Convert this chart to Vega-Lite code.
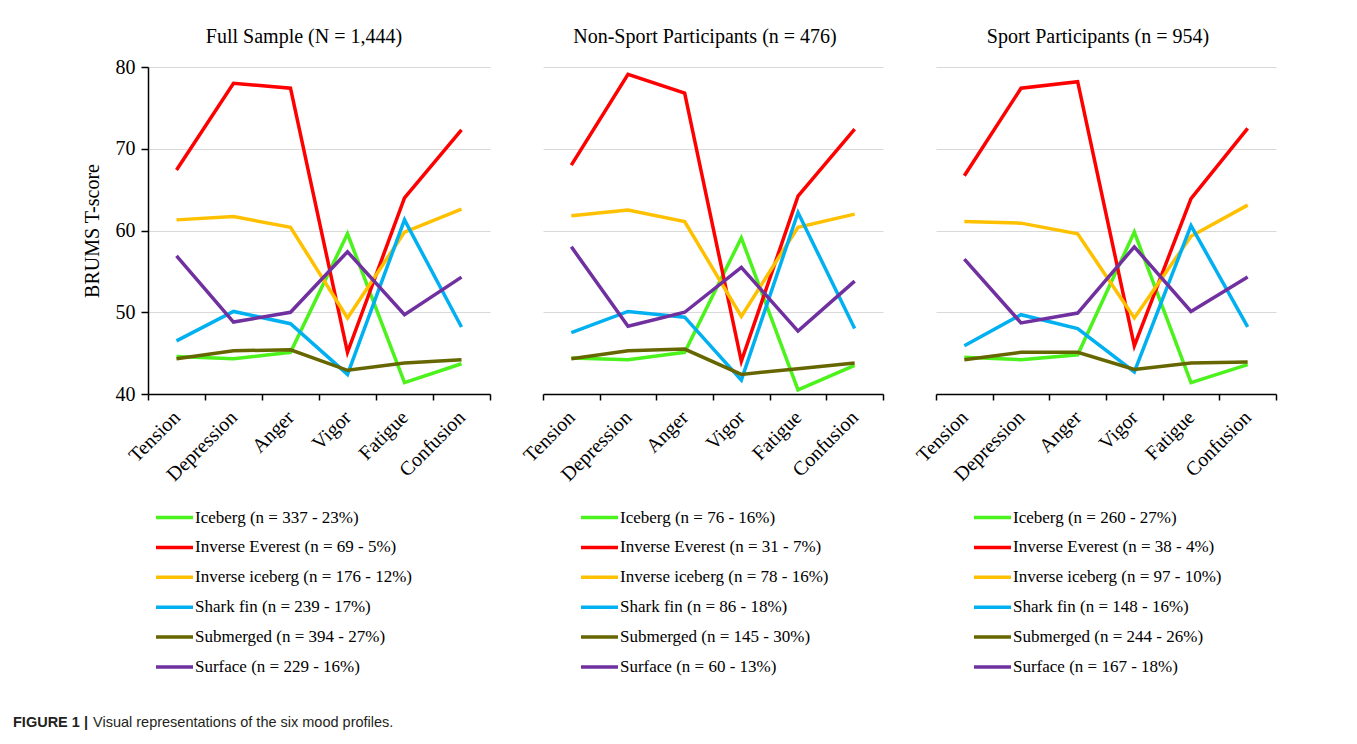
{
  "$schema": "https://vega.github.io/schema/vega-lite/v6.json",
  "padding": {"left": 13, "top": 27, "right": 5, "bottom": 5},
  "background": "white",
  "data": {"values": [
    {"panel": "full", "profile": "Iceberg (n = 337 - 23%)", "mood": "Tension", "t": 44.6},
    {"panel": "full", "profile": "Iceberg (n = 337 - 23%)", "mood": "Depression", "t": 44.3},
    {"panel": "full", "profile": "Iceberg (n = 337 - 23%)", "mood": "Anger", "t": 45.1},
    {"panel": "full", "profile": "Iceberg (n = 337 - 23%)", "mood": "Vigor", "t": 59.6},
    {"panel": "full", "profile": "Iceberg (n = 337 - 23%)", "mood": "Fatigue", "t": 41.4},
    {"panel": "full", "profile": "Iceberg (n = 337 - 23%)", "mood": "Confusion", "t": 43.7},
    {"panel": "full", "profile": "Inverse Everest (n = 69 - 5%)", "mood": "Tension", "t": 67.4},
    {"panel": "full", "profile": "Inverse Everest (n = 69 - 5%)", "mood": "Depression", "t": 78.0},
    {"panel": "full", "profile": "Inverse Everest (n = 69 - 5%)", "mood": "Anger", "t": 77.4},
    {"panel": "full", "profile": "Inverse Everest (n = 69 - 5%)", "mood": "Vigor", "t": 45.1},
    {"panel": "full", "profile": "Inverse Everest (n = 69 - 5%)", "mood": "Fatigue", "t": 64.0},
    {"panel": "full", "profile": "Inverse Everest (n = 69 - 5%)", "mood": "Confusion", "t": 72.3},
    {"panel": "full", "profile": "Inverse iceberg (n = 176 - 12%)", "mood": "Tension", "t": 61.3},
    {"panel": "full", "profile": "Inverse iceberg (n = 176 - 12%)", "mood": "Depression", "t": 61.7},
    {"panel": "full", "profile": "Inverse iceberg (n = 176 - 12%)", "mood": "Anger", "t": 60.4},
    {"panel": "full", "profile": "Inverse iceberg (n = 176 - 12%)", "mood": "Vigor", "t": 49.3},
    {"panel": "full", "profile": "Inverse iceberg (n = 176 - 12%)", "mood": "Fatigue", "t": 59.8},
    {"panel": "full", "profile": "Inverse iceberg (n = 176 - 12%)", "mood": "Confusion", "t": 62.6},
    {"panel": "full", "profile": "Shark fin (n = 239 - 17%)", "mood": "Tension", "t": 46.5},
    {"panel": "full", "profile": "Shark fin (n = 239 - 17%)", "mood": "Depression", "t": 50.1},
    {"panel": "full", "profile": "Shark fin (n = 239 - 17%)", "mood": "Anger", "t": 48.6},
    {"panel": "full", "profile": "Shark fin (n = 239 - 17%)", "mood": "Vigor", "t": 42.4},
    {"panel": "full", "profile": "Shark fin (n = 239 - 17%)", "mood": "Fatigue", "t": 61.3},
    {"panel": "full", "profile": "Shark fin (n = 239 - 17%)", "mood": "Confusion", "t": 48.2},
    {"panel": "full", "profile": "Submerged (n = 394 - 27%)", "mood": "Tension", "t": 44.3},
    {"panel": "full", "profile": "Submerged (n = 394 - 27%)", "mood": "Depression", "t": 45.3},
    {"panel": "full", "profile": "Submerged (n = 394 - 27%)", "mood": "Anger", "t": 45.4},
    {"panel": "full", "profile": "Submerged (n = 394 - 27%)", "mood": "Vigor", "t": 42.9},
    {"panel": "full", "profile": "Submerged (n = 394 - 27%)", "mood": "Fatigue", "t": 43.8},
    {"panel": "full", "profile": "Submerged (n = 394 - 27%)", "mood": "Confusion", "t": 44.2},
    {"panel": "full", "profile": "Surface (n = 229 - 16%)", "mood": "Tension", "t": 56.9},
    {"panel": "full", "profile": "Surface (n = 229 - 16%)", "mood": "Depression", "t": 48.8},
    {"panel": "full", "profile": "Surface (n = 229 - 16%)", "mood": "Anger", "t": 50.0},
    {"panel": "full", "profile": "Surface (n = 229 - 16%)", "mood": "Vigor", "t": 57.4},
    {"panel": "full", "profile": "Surface (n = 229 - 16%)", "mood": "Fatigue", "t": 49.7},
    {"panel": "full", "profile": "Surface (n = 229 - 16%)", "mood": "Confusion", "t": 54.3},

    {"panel": "non", "profile": "Iceberg (n = 76 - 16%)", "mood": "Tension", "t": 44.4},
    {"panel": "non", "profile": "Iceberg (n = 76 - 16%)", "mood": "Depression", "t": 44.2},
    {"panel": "non", "profile": "Iceberg (n = 76 - 16%)", "mood": "Anger", "t": 45.1},
    {"panel": "non", "profile": "Iceberg (n = 76 - 16%)", "mood": "Vigor", "t": 59.1},
    {"panel": "non", "profile": "Iceberg (n = 76 - 16%)", "mood": "Fatigue", "t": 40.5},
    {"panel": "non", "profile": "Iceberg (n = 76 - 16%)", "mood": "Confusion", "t": 43.5},
    {"panel": "non", "profile": "Inverse Everest (n = 31 - 7%)", "mood": "Tension", "t": 68.0},
    {"panel": "non", "profile": "Inverse Everest (n = 31 - 7%)", "mood": "Depression", "t": 79.1},
    {"panel": "non", "profile": "Inverse Everest (n = 31 - 7%)", "mood": "Anger", "t": 76.8},
    {"panel": "non", "profile": "Inverse Everest (n = 31 - 7%)", "mood": "Vigor", "t": 44.0},
    {"panel": "non", "profile": "Inverse Everest (n = 31 - 7%)", "mood": "Fatigue", "t": 64.2},
    {"panel": "non", "profile": "Inverse Everest (n = 31 - 7%)", "mood": "Confusion", "t": 72.4},
    {"panel": "non", "profile": "Inverse iceberg (n = 78 - 16%)", "mood": "Tension", "t": 61.8},
    {"panel": "non", "profile": "Inverse iceberg (n = 78 - 16%)", "mood": "Depression", "t": 62.5},
    {"panel": "non", "profile": "Inverse iceberg (n = 78 - 16%)", "mood": "Anger", "t": 61.1},
    {"panel": "non", "profile": "Inverse iceberg (n = 78 - 16%)", "mood": "Vigor", "t": 49.5},
    {"panel": "non", "profile": "Inverse iceberg (n = 78 - 16%)", "mood": "Fatigue", "t": 60.4},
    {"panel": "non", "profile": "Inverse iceberg (n = 78 - 16%)", "mood": "Confusion", "t": 62.0},
    {"panel": "non", "profile": "Shark fin (n = 86 - 18%)", "mood": "Tension", "t": 47.5},
    {"panel": "non", "profile": "Shark fin (n = 86 - 18%)", "mood": "Depression", "t": 50.1},
    {"panel": "non", "profile": "Shark fin (n = 86 - 18%)", "mood": "Anger", "t": 49.4},
    {"panel": "non", "profile": "Shark fin (n = 86 - 18%)", "mood": "Vigor", "t": 41.7},
    {"panel": "non", "profile": "Shark fin (n = 86 - 18%)", "mood": "Fatigue", "t": 62.2},
    {"panel": "non", "profile": "Shark fin (n = 86 - 18%)", "mood": "Confusion", "t": 48.0},
    {"panel": "non", "profile": "Submerged (n = 145 - 30%)", "mood": "Tension", "t": 44.3},
    {"panel": "non", "profile": "Submerged (n = 145 - 30%)", "mood": "Depression", "t": 45.3},
    {"panel": "non", "profile": "Submerged (n = 145 - 30%)", "mood": "Anger", "t": 45.5},
    {"panel": "non", "profile": "Submerged (n = 145 - 30%)", "mood": "Vigor", "t": 42.4},
    {"panel": "non", "profile": "Submerged (n = 145 - 30%)", "mood": "Fatigue", "t": 43.1},
    {"panel": "non", "profile": "Submerged (n = 145 - 30%)", "mood": "Confusion", "t": 43.8},
    {"panel": "non", "profile": "Surface (n = 60 - 13%)", "mood": "Tension", "t": 58.0},
    {"panel": "non", "profile": "Surface (n = 60 - 13%)", "mood": "Depression", "t": 48.3},
    {"panel": "non", "profile": "Surface (n = 60 - 13%)", "mood": "Anger", "t": 50.0},
    {"panel": "non", "profile": "Surface (n = 60 - 13%)", "mood": "Vigor", "t": 55.5},
    {"panel": "non", "profile": "Surface (n = 60 - 13%)", "mood": "Fatigue", "t": 47.7},
    {"panel": "non", "profile": "Surface (n = 60 - 13%)", "mood": "Confusion", "t": 53.8},

    {"panel": "sport", "profile": "Iceberg (n = 260 - 27%)", "mood": "Tension", "t": 44.5},
    {"panel": "sport", "profile": "Iceberg (n = 260 - 27%)", "mood": "Depression", "t": 44.2},
    {"panel": "sport", "profile": "Iceberg (n = 260 - 27%)", "mood": "Anger", "t": 44.8},
    {"panel": "sport", "profile": "Iceberg (n = 260 - 27%)", "mood": "Vigor", "t": 59.8},
    {"panel": "sport", "profile": "Iceberg (n = 260 - 27%)", "mood": "Fatigue", "t": 41.4},
    {"panel": "sport", "profile": "Iceberg (n = 260 - 27%)", "mood": "Confusion", "t": 43.6},
    {"panel": "sport", "profile": "Inverse Everest (n = 38 - 4%)", "mood": "Tension", "t": 66.7},
    {"panel": "sport", "profile": "Inverse Everest (n = 38 - 4%)", "mood": "Depression", "t": 77.4},
    {"panel": "sport", "profile": "Inverse Everest (n = 38 - 4%)", "mood": "Anger", "t": 78.2},
    {"panel": "sport", "profile": "Inverse Everest (n = 38 - 4%)", "mood": "Vigor", "t": 45.9},
    {"panel": "sport", "profile": "Inverse Everest (n = 38 - 4%)", "mood": "Fatigue", "t": 63.9},
    {"panel": "sport", "profile": "Inverse Everest (n = 38 - 4%)", "mood": "Confusion", "t": 72.5},
    {"panel": "sport", "profile": "Inverse iceberg (n = 97 - 10%)", "mood": "Tension", "t": 61.1},
    {"panel": "sport", "profile": "Inverse iceberg (n = 97 - 10%)", "mood": "Depression", "t": 60.9},
    {"panel": "sport", "profile": "Inverse iceberg (n = 97 - 10%)", "mood": "Anger", "t": 59.6},
    {"panel": "sport", "profile": "Inverse iceberg (n = 97 - 10%)", "mood": "Vigor", "t": 49.3},
    {"panel": "sport", "profile": "Inverse iceberg (n = 97 - 10%)", "mood": "Fatigue", "t": 59.3},
    {"panel": "sport", "profile": "Inverse iceberg (n = 97 - 10%)", "mood": "Confusion", "t": 63.1},
    {"panel": "sport", "profile": "Shark fin (n = 148 - 16%)", "mood": "Tension", "t": 45.9},
    {"panel": "sport", "profile": "Shark fin (n = 148 - 16%)", "mood": "Depression", "t": 49.7},
    {"panel": "sport", "profile": "Shark fin (n = 148 - 16%)", "mood": "Anger", "t": 48.0},
    {"panel": "sport", "profile": "Shark fin (n = 148 - 16%)", "mood": "Vigor", "t": 42.7},
    {"panel": "sport", "profile": "Shark fin (n = 148 - 16%)", "mood": "Fatigue", "t": 60.6},
    {"panel": "sport", "profile": "Shark fin (n = 148 - 16%)", "mood": "Confusion", "t": 48.2},
    {"panel": "sport", "profile": "Submerged (n = 244 - 26%)", "mood": "Tension", "t": 44.2},
    {"panel": "sport", "profile": "Submerged (n = 244 - 26%)", "mood": "Depression", "t": 45.1},
    {"panel": "sport", "profile": "Submerged (n = 244 - 26%)", "mood": "Anger", "t": 45.1},
    {"panel": "sport", "profile": "Submerged (n = 244 - 26%)", "mood": "Vigor", "t": 43.0},
    {"panel": "sport", "profile": "Submerged (n = 244 - 26%)", "mood": "Fatigue", "t": 43.8},
    {"panel": "sport", "profile": "Submerged (n = 244 - 26%)", "mood": "Confusion", "t": 43.9},
    {"panel": "sport", "profile": "Surface (n = 167 - 18%)", "mood": "Tension", "t": 56.5},
    {"panel": "sport", "profile": "Surface (n = 167 - 18%)", "mood": "Depression", "t": 48.7},
    {"panel": "sport", "profile": "Surface (n = 167 - 18%)", "mood": "Anger", "t": 49.9},
    {"panel": "sport", "profile": "Surface (n = 167 - 18%)", "mood": "Vigor", "t": 58.0},
    {"panel": "sport", "profile": "Surface (n = 167 - 18%)", "mood": "Fatigue", "t": 50.1},
    {"panel": "sport", "profile": "Surface (n = 167 - 18%)", "mood": "Confusion", "t": 54.3}
  ]},
  "spacing": 40,
  "vconcat": [
    {
      "spacing": 28,
      "resolve": {"scale": {"color": "independent"}, "legend": {"color": "independent"}},
      "hconcat": [
        {
          "width": 342, "height": 327,
          "title": {"text": "Full Sample (N = 1,444)", "dx": -15, "offset": 10},
          "transform": [{"filter": "datum.panel === 'full'"}],
          "mark": {"type": "line", "strokeWidth": 3.5},
          "encoding": {
            "x": {"field": "mood", "type": "nominal", "sort": ["Tension", "Depression", "Anger", "Vigor", "Fatigue", "Confusion"],
                  "scale": {"type": "band", "paddingInner": 0, "paddingOuter": 0}, "axis": {"title": null}},
            "y": {"field": "t", "type": "quantitative", "scale": {"domain": [40, 80]},
                  "axis": {"title": "BRUMS T-score", "values": [40, 50, 60, 70, 80]}},
            "color": {"field": "profile", "type": "nominal",
                      "scale": {"range": ["#4cf21c", "#ff0000", "#ffc000", "#00b0f0", "#666600", "#7030a0"]},
                      "legend": {"orient": "none", "legendX": 6, "legendY": 430}}
          }
        },
        {
          "width": 340, "height": 327,
          "title": {"text": "Non-Sport Participants (n = 476)", "dx": -8, "offset": 20},
          "transform": [{"filter": "datum.panel === 'non'"}],
          "mark": {"type": "line", "strokeWidth": 3.5},
          "encoding": {
            "x": {"field": "mood", "type": "nominal", "sort": ["Tension", "Depression", "Anger", "Vigor", "Fatigue", "Confusion"],
                  "scale": {"type": "band", "paddingInner": 0, "paddingOuter": 0}, "axis": {"title": null}},
            "y": {"field": "t", "type": "quantitative", "scale": {"domain": [40, 80]},
                  "axis": {"title": null, "values": [40, 50, 60, 70, 80], "labels": false, "ticks": false, "domain": false}},
            "color": {"field": "profile", "type": "nominal",
                      "scale": {"range": ["#4cf21c", "#ff0000", "#ffc000", "#00b0f0", "#666600", "#7030a0"]},
                      "legend": {"orient": "none", "legendX": 36, "legendY": 430}}
          }
        },
        {
          "width": 340, "height": 327,
          "title": {"text": "Sport Participants (n = 954)", "dx": -8, "offset": 20},
          "transform": [{"filter": "datum.panel === 'sport'"}],
          "mark": {"type": "line", "strokeWidth": 3.5},
          "encoding": {
            "x": {"field": "mood", "type": "nominal", "sort": ["Tension", "Depression", "Anger", "Vigor", "Fatigue", "Confusion"],
                  "scale": {"type": "band", "paddingInner": 0, "paddingOuter": 0}, "axis": {"title": null}},
            "y": {"field": "t", "type": "quantitative", "scale": {"domain": [40, 80]},
                  "axis": {"title": null, "values": [40, 50, 60, 70, 80], "labels": false, "ticks": false, "domain": false}},
            "color": {"field": "profile", "type": "nominal",
                      "scale": {"range": ["#4cf21c", "#ff0000", "#ffc000", "#00b0f0", "#666600", "#7030a0"]},
                      "legend": {"orient": "none", "legendX": 36, "legendY": 430}}
          }
        }
      ]
    },
    {
      "width": 80, "height": 16,
      "data": {"values": [
        {"k": "a", "txt": "FIGURE 1 |"},
        {"k": "b", "txt": "Visual representations of the six mood profiles."}
      ]},
      "layer": [
        {
          "transform": [{"filter": "datum.k === 'a'"}],
          "mark": {"type": "text", "align": "left", "baseline": "middle", "font": "Liberation Sans", "fontSize": 14.5, "fontWeight": "bold", "color": "#231f20", "dx": -135},
          "encoding": {
            "x": {"field": "k", "type": "nominal", "scale": {"type": "point", "padding": 0, "domain": ["a", "b"]}, "axis": null},
            "text": {"field": "txt"}
          }
        },
        {
          "transform": [{"filter": "datum.k === 'b'"}],
          "mark": {"type": "text", "align": "left", "baseline": "middle", "font": "Liberation Sans", "fontSize": 14.5, "color": "#231f20", "dx": -135},
          "encoding": {
            "x": {"field": "k", "type": "nominal", "scale": {"type": "point", "padding": 0, "domain": ["a", "b"]}, "axis": null},
            "text": {"field": "txt"}
          }
        }
      ]
    }
  ],
  "config": {
    "font": "Liberation Serif",
    "view": {"stroke": null},
    "title": {"font": "Liberation Serif", "fontSize": 20, "fontWeight": "normal", "color": "#000000", "frame": "group", "offset": 18, "anchor": "middle"},
    "axis": {
      "labelFont": "Liberation Serif", "labelFontSize": 20, "labelColor": "#000000",
      "titleFont": "Liberation Serif", "titleFontSize": 20, "titleFontWeight": "normal", "titleColor": "#000000",
      "domainColor": "#000000", "domainWidth": 1.5, "tickColor": "#000000", "tickWidth": 1.5,
      "gridColor": "#d9d9d9", "gridWidth": 1.2
    },
    "axisX": {"labelAngle": -45, "labelAlign": "right", "labelBaseline": "middle", "tickBand": "extent", "tickSize": 6, "grid": false, "labelPadding": 14},
    "axisY": {"tickSize": 7, "labelPadding": 6, "titlePadding": 13, "grid": true},
    "legend": {
      "title": null, "symbolType": "stroke", "symbolSize": 1369, "symbolStrokeWidth": 3.5,
      "labelFont": "Liberation Serif", "labelFontSize": 17, "labelColor": "#000000",
      "labelOffset": 0, "rowPadding": 0.9, "padding": 0, "labelLimit": 400
    }
  }
}
